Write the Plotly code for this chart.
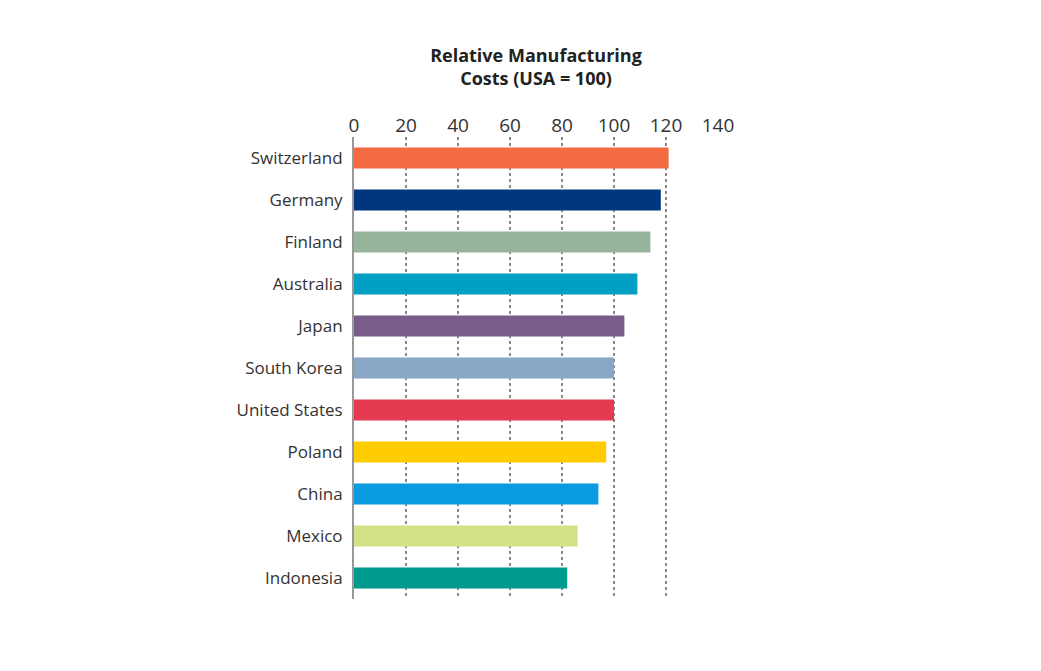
import plotly.graph_objects as go

countries = ["Switzerland", "Germany", "Finland", "Australia", "Japan", "South Korea",
             "United States", "Poland", "China", "Mexico", "Indonesia"]
costs = [121, 118, 114, 109, 104, 100, 100, 97, 94, 86, 82]
colors = ["#f26b43", "#003580", "#96b59c", "#009fc3", "#7a5c8a", "#88a6c6",
          "#e63a52", "#ffcc00", "#0a9ade", "#d3e286", "#00998d"]
ticks = [0, 20, 40, 60, 80, 100, 120, 140]

fig = go.Figure(go.Bar(
    x=costs, y=countries, orientation="h",
    marker=dict(color=colors, line=dict(width=0)),
))

fig.update_layout(
    width=1041, height=671,
    margin=dict(l=346, r=331, t=129, b=80),
    plot_bgcolor="white", paper_bgcolor="white",
    font=dict(family="Open Sans", size=17, color="#333333"),
    bargap=0.5,
    showlegend=False,
    title=dict(text="<b>Relative Manufacturing<br>Costs (USA = 100)</b>",
               x=0.5, xanchor="center", xref="paper", y=0.92, yanchor="top",
               font=dict(size=18, color="#222222")),
    xaxis=dict(side="top", range=[0, 140], tickvals=ticks, showgrid=True,
               gridcolor="#888888", griddash="dot", gridwidth=1.5,
               zeroline=False, showline=False, ticks="", fixedrange=True,
               automargin=False, tickfont=dict(size=19)),
    yaxis=dict(autorange="reversed", showline=True, linecolor="#999999", linewidth=2,
               ticks="", ticklabelstandoff=6, showgrid=False, automargin=False),
)

fig.write_html("out.html")
